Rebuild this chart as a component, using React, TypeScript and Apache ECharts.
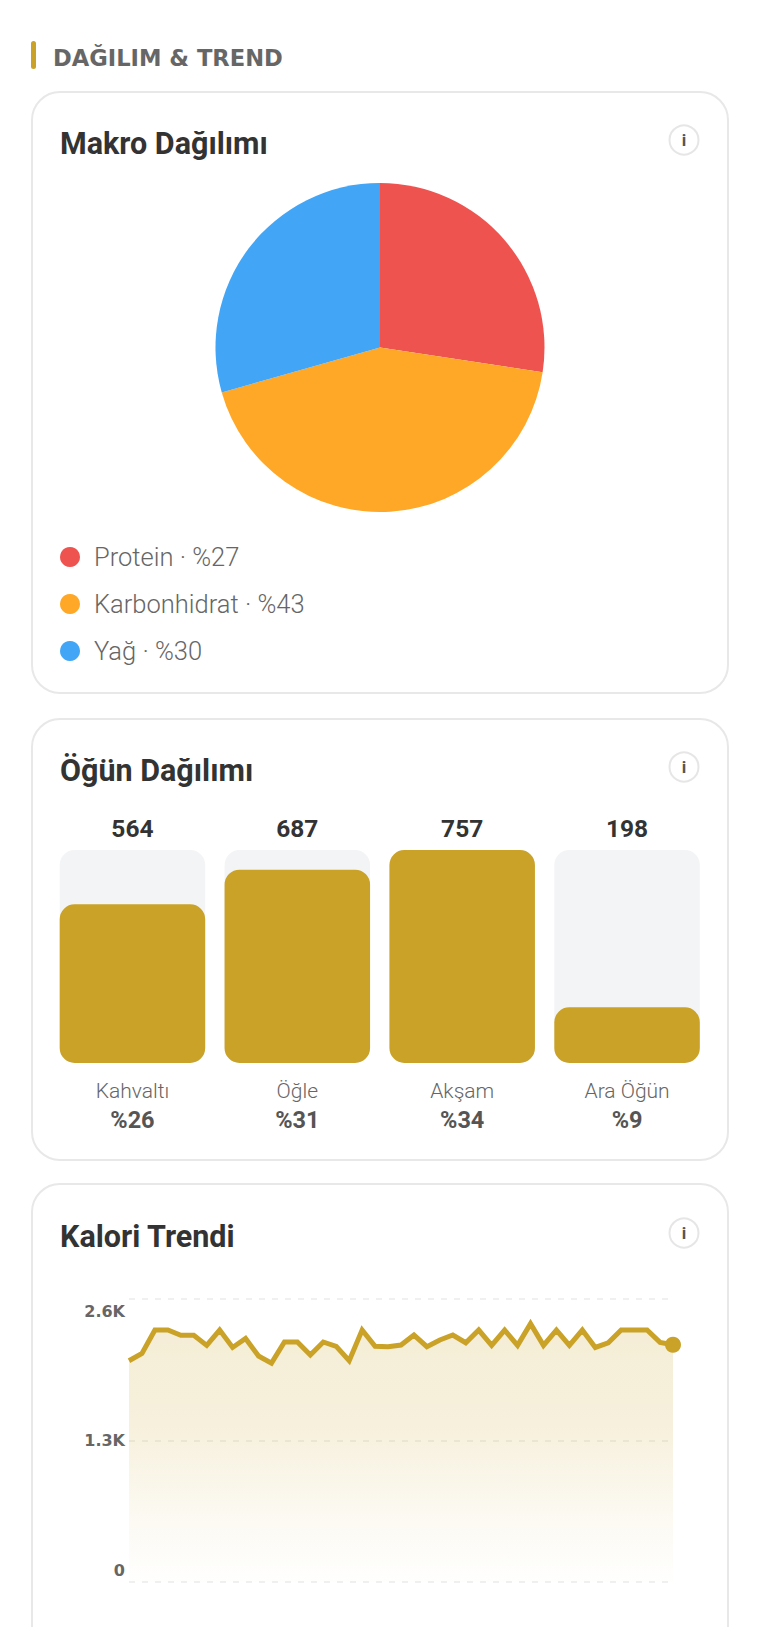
import React, { useEffect, useRef } from "react";
import * as echarts from "echarts";

const GOLD = "#C9A227";
const HEAD_FONT = "DejaVu Sans";
const FONT = "Roboto";

const macroNames = ["Protein", "Karbonhidrat", "Yağ"];
const macroLabels = ["%27", "%43", "%30"];
const macroValues = [27.4, 43.2, 29.4];
const macroColors = ["#EF5350", "#FFA726", "#42A5F5"];

const mealNames = ["Kahvaltı", "Öğle", "Akşam", "Ara Öğün"];
const mealValues = [564, 687, 757, 198];
const mealPercents = ["%26", "%31", "%34", "%9"];

const trendValues = [
  2033, 2100, 2315, 2315, 2266, 2266, 2174, 2315, 2155, 2238, 2076, 2011, 2205, 2205, 2085, 2205, 2165, 2033, 2315, 2165, 2162,
  2177, 2269, 2162, 2223, 2269, 2198, 2315, 2174, 2315, 2174, 2373, 2174, 2315, 2174, 2315, 2155, 2198, 2315, 2315, 2315, 2201, 2180,
];
const trendDays = trendValues.map((_, i) => String(i + 1));
const yTicks: Record<number, string> = { 0: "0", 1300: "1.3K", 2600: "2.6K" };

const cards = [
  { y: 92, h: 601, title: "Makro Dağılımı", titleY: 143, infoY: 140 },
  { y: 719, h: 441, title: "Öğün Dağılımı", titleY: 770, infoY: 767 },
  { y: 1184, h: 500, title: "Kalori Trendi", titleY: 1236, infoY: 1233 },
];

export default function App() {
  const ref = useRef<HTMLDivElement>(null);
  useEffect(() => {
    document.body.style.margin = "0";
    const chart = echarts.init(ref.current!, undefined, { renderer: "svg" });
    const graphic: any[] = [
      { type: "rect", z: 0, shape: { x: 31, y: 41, width: 5, height: 28, r: 2.5 }, style: { fill: GOLD } },
      {
        type: "text", z: 1, x: 53, y: 58,
        style: { text: "DAĞILIM & TREND", font: `bold 22.6px '${HEAD_FONT}'`, fill: "#666666", verticalAlign: "middle" },
      },
    ];
    cards.forEach((c) => {
      graphic.push(
        { type: "rect", z: 0, shape: { x: 32, y: c.y, width: 696, height: c.h, r: 28 }, style: { fill: "#fff", stroke: "#E8E8E8", lineWidth: 2 } },
        { type: "text", z: 1, x: 60, y: c.titleY, style: { text: c.title, font: `bold 30.5px '${FONT}'`, fill: "#333333", verticalAlign: "middle" } },
        { type: "circle", z: 1, shape: { cx: 684, cy: c.infoY, r: 14.5 }, style: { fill: "#fff", stroke: "#E6E6E6", lineWidth: 2 } },
        { type: "text", z: 2, x: 684, y: c.infoY, style: { text: "i", font: `bold 17px '${FONT}'`, fill: "#555555", align: "center", verticalAlign: "middle" } },
      );
    });
    chart.setOption({
      animation: false,
      graphic,
      legend: {
        orient: "vertical",
        left: 60,
        top: 544,
        padding: 0,
        icon: "circle",
        itemWidth: 20,
        itemHeight: 20,
        itemGap: 21,
        selectedMode: false,
        data: macroNames,
        formatter: (n: string) => `${n} · ${macroLabels[macroNames.indexOf(n)]}`,
        textStyle: { fontFamily: FONT, fontSize: 25.5, fontWeight: 300, color: "#666666", padding: [0, 0, 0, 9] },
      },
      grid: [
        { left: 50, top: 850, width: 659.5, height: 213, containLabel: false },
        { left: 129, top: 1299, width: 544, height: 283, containLabel: false },
      ],
      xAxis: [
        {
          gridIndex: 0, type: "category", data: mealNames,
          axisLine: { show: false }, axisTick: { show: false },
          axisLabel: {
            margin: 13, interval: 0,
            formatter: (n: string) => `{n|${n}}\n{p|${mealPercents[mealNames.indexOf(n)]}}`,
            rich: {
              n: { fontFamily: FONT, fontSize: 21, fontWeight: 300, color: "#666666", lineHeight: 30 },
              p: { fontFamily: FONT, fontSize: 23.5, fontWeight: 700, color: "#555555", lineHeight: 28 },
            },
          },
        },
        {
          gridIndex: 0, type: "category", position: "top", data: mealValues.map(String),
          axisLine: { show: false }, axisTick: { show: false },
          axisLabel: { margin: 9, interval: 0, fontFamily: FONT, fontSize: 24.5, fontWeight: 700, color: "#333333" },
        },
        {
          gridIndex: 1, type: "category", data: trendDays, boundaryGap: false,
          axisLine: { show: false }, axisTick: { show: false }, axisLabel: { show: false },
        },
      ],
      yAxis: [
        { gridIndex: 0, type: "value", min: 0, max: 757, show: false },
        {
          gridIndex: 1, type: "value", min: 0, max: 2600, interval: 1300,
          axisLine: { show: false }, axisTick: { show: false },
          splitLine: { lineStyle: { color: "#ECECEC", type: [6, 7], width: 1.5 } },
          axisLabel: {
            margin: 4,
            fontFamily: HEAD_FONT, fontSize: 16, fontWeight: 700, color: "#666666", lineHeight: 24,
            formatter: (v: number) => yTicks[v],
            verticalAlignMinLabel: "bottom",
            verticalAlignMaxLabel: "top",
          },
        },
      ],
      series: [
        {
          type: "pie",
          center: [380, 347.5],
          radius: [0, 164.5],
          startAngle: 90,
          label: { show: false },
          labelLine: { show: false },
          silent: true,
          data: macroNames.map((name, i) => ({ name, value: macroValues[i], itemStyle: { color: macroColors[i] } })),
        },
        {
          type: "bar",
          xAxisIndex: 0,
          yAxisIndex: 0,
          data: mealValues,
          barWidth: 145.5,
          silent: true,
          itemStyle: { color: GOLD, borderRadius: 15 },
          showBackground: true,
          backgroundStyle: { color: "#F3F4F6", borderRadius: 15 },
        },
        {
          type: "line",
          xAxisIndex: 2,
          yAxisIndex: 1,
          data: trendValues,
          silent: true,
          clip: false,
          smooth: false,
          showSymbol: true,
          showAllSymbol: true,
          symbol: "circle",
          symbolSize: (_: number, p: any) => (p.dataIndex === trendValues.length - 1 ? 16 : 0),
          itemStyle: { color: GOLD },
          lineStyle: { color: GOLD, width: 5, join: "miter" },
          areaStyle: {
            opacity: 1,
            color: {
              type: "linear", x: 0, y: 0, x2: 0, y2: 1,
              colorStops: [
                { offset: 0, color: "rgba(201,162,39,0.19)" },
                { offset: 0.4, color: "rgba(201,162,39,0.16)" },
                { offset: 0.75, color: "rgba(201,162,39,0.06)" },
                { offset: 1, color: "rgba(201,162,39,0.005)" },
              ],
            },
          },
        },
      ],
    });
    return () => chart.dispose();
  }, []);
  return <div ref={ref} style={{ width: 760, height: 1627, overflow: "hidden" }} />;
}
